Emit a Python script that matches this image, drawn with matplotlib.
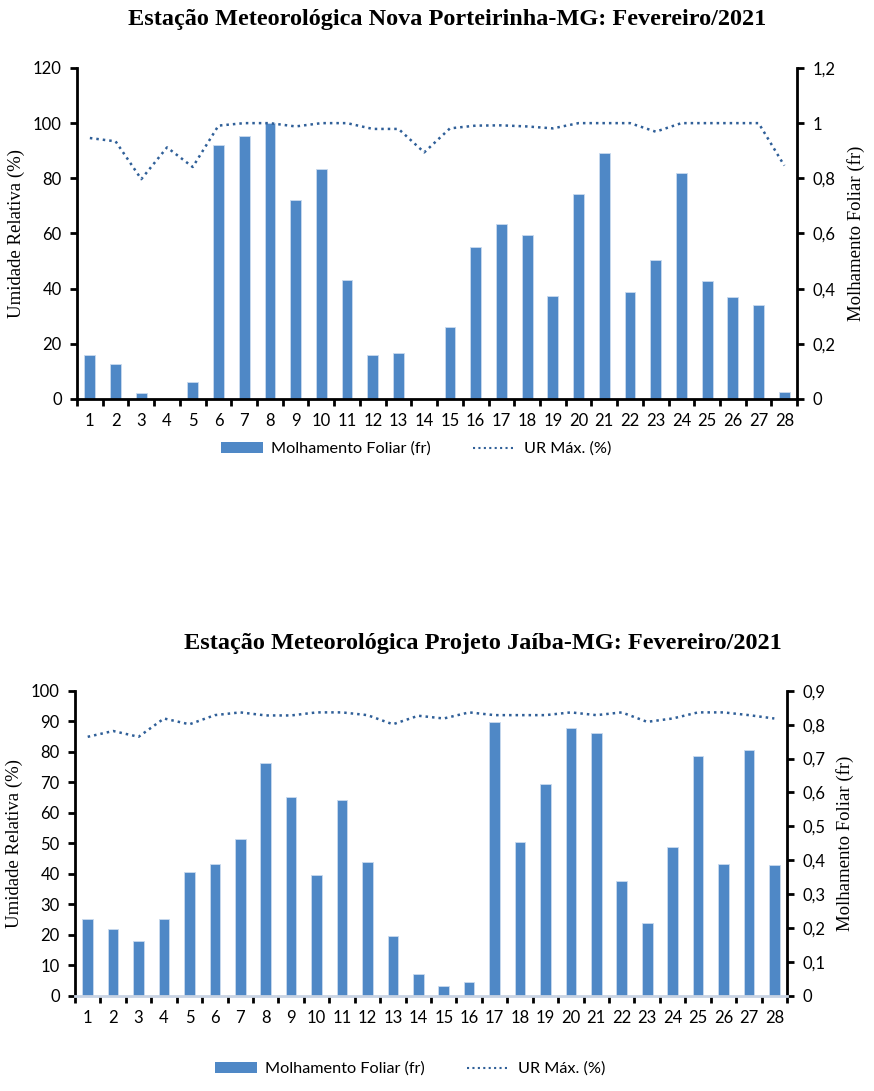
import matplotlib
matplotlib.use("Agg")
import matplotlib.pyplot as plt
from matplotlib.patches import Patch
from matplotlib.lines import Line2D
from matplotlib.ticker import FixedLocator, NullFormatter

dias = list(range(1, 29))

# Nova Porteirinha - fevereiro/2021
np_molhamento = [0.16, 0.125, 0.022, 0.0, 0.06, 0.92, 0.955, 1.0, 0.72, 0.835,
                 0.433, 0.158, 0.167, 0.0, 0.26, 0.552, 0.635, 0.595, 0.375, 0.744,
                 0.89, 0.387, 0.503, 0.82, 0.428, 0.369, 0.339, 0.027]
np_ur_max = [94.6, 93.4, 79.7, 91.2, 84.1, 99.1, 100, 100, 98.8, 100,
             100, 97.9, 97.9, 89.4, 98.1, 99.1, 99.2, 98.8, 98.1, 100,
             100, 100, 96.9, 100, 100, 100, 100, 84.6]

# Projeto Jaíba - fevereiro/2021
jb_molhamento = [0.228, 0.196, 0.163, 0.228, 0.365, 0.388, 0.464, 0.686, 0.586, 0.357,
                 0.579, 0.394, 0.178, 0.066, 0.030, 0.041, 0.809, 0.454, 0.625, 0.789,
                 0.776, 0.338, 0.215, 0.438, 0.708, 0.389, 0.725, 0.386]
jb_ur_max = [84.9, 86.8, 84.9, 90.9, 89.0, 92.0, 92.9, 91.9, 91.9, 92.9,
             92.9, 92.0, 89.0, 91.8, 90.9, 92.9, 92.0, 92.0, 92.0, 92.9,
             92.0, 92.9, 89.8, 90.9, 92.9, 92.9, 92.0, 90.9]

titulos = ["Estação Meteorológica Nova Porteirinha-MG: Fevereiro/2021",
           "Estação Meteorológica Projeto Jaíba-MG: Fevereiro/2021"]
ur_ticks = [[0, 20, 40, 60, 80, 100, 120], [0, 10, 20, 30, 40, 50, 60, 70, 80, 90, 100]]
mf_ticks = [[0, 0.2, 0.4, 0.6, 0.8, 1.0, 1.2], [0, 0.1, 0.2, 0.3, 0.4, 0.5, 0.6, 0.7, 0.8, 0.9]]

BAR = "#4F88C6"
LINE = "#2F5F98"
SANS = "Lato"
SERIF = "Liberation Serif"
TICK_FS = 12
PONTILHADO = (0, (1, 1.6))


def fmt_br(v):
    s = ("%.1f" % v).rstrip("0").rstrip(".")
    return s.replace(".", ",")


def painel(fig, rect, mf, ur, yt_ur, yt_mf, base_cor):
    ax = fig.add_axes(rect)
    ax2 = ax.twinx()
    ax.set_zorder(ax2.get_zorder() + 1)
    ax.patch.set_visible(False)

    ax2.bar(dias, mf, width=0.42, color=BAR, edgecolor="#C9DAEE", linewidth=0.6)
    ax.plot(dias, ur, color=LINE, linestyle=PONTILHADO, linewidth=1.8)

    ax.set_xlim(0.5, 28.5)
    ax.set_ylim(yt_ur[0], yt_ur[-1])
    ax2.set_ylim(yt_mf[0], yt_mf[-1])

    ax.set_yticks(yt_ur)
    ax.set_yticklabels([str(t) for t in yt_ur], family=SANS, fontsize=TICK_FS)
    ax2.set_yticks(yt_mf)
    ax2.set_yticklabels([fmt_br(t) for t in yt_mf], family=SANS, fontsize=TICK_FS)

    ax.set_xticks(dias)
    ax.set_xticklabels([str(d) for d in dias], family=SANS, fontsize=TICK_FS)
    ax.tick_params(axis="x", which="major", length=0, pad=10)
    ax.xaxis.set_minor_locator(FixedLocator([d + 0.5 for d in range(0, 29)]))
    ax.xaxis.set_minor_formatter(NullFormatter())
    ax.tick_params(axis="x", which="minor", length=5, width=2, direction="out", color="black")
    ax.tick_params(axis="y", length=5, width=2, direction="out", pad=6)
    ax2.tick_params(axis="y", length=5, width=2, direction="out", pad=6)

    for a in (ax, ax2):
        a.spines["top"].set_visible(False)
        for s in ("left", "right", "bottom"):
            a.spines[s].set_linewidth(2)
    ax.spines["right"].set_visible(False)
    ax2.spines["left"].set_visible(False)
    ax2.spines["bottom"].set_visible(False)
    ax.spines["bottom"].set_color(base_cor)

    ax.set_ylabel("Umidade Relativa (%)", family=SERIF, fontsize=13.5, labelpad=6)
    ax2.set_ylabel("Molhamento Foliar (fr)", family=SERIF, fontsize=13.5, labelpad=8)
    return ax, ax2


fig = plt.figure(figsize=(8.74, 10.91), dpi=100)

painel(fig, [0.0881, 0.6343, 0.8240, 0.3034], np_molhamento, np_ur_max,
       ur_ticks[0], mf_ticks[0], "black")
painel(fig, [0.0858, 0.0871, 0.8147, 0.2798], jb_molhamento, jb_ur_max,
       ur_ticks[1], mf_ticks[1], "#C8D3E3")

fig.text(447 / 874, 1 - 20 / 1091, titulos[0], ha="center", va="center",
         family=SERIF, fontweight="bold", fontsize=17.5)
fig.text(483 / 874, 1 - 643 / 1091, titulos[1], ha="center", va="center",
         family=SERIF, fontweight="bold", fontsize=17.5)

handles = [Patch(facecolor=BAR, edgecolor="none"),
           Line2D([], [], color=LINE, linestyle=PONTILHADO, linewidth=1.5)]
rotulos = ["Molhamento Foliar (fr)", "UR Máx. (%)"]
for xc, yc in ((416, 449), (410, 1069)):
    fig.legend(handles, rotulos, loc="center", bbox_to_anchor=(xc / 874, 1 - yc / 1091),
               ncol=2, frameon=False, prop={"family": SANS, "size": 11.7},
               handlelength=2.6, columnspacing=2.6, handletextpad=0.5)

fig.savefig("out.png", dpi=100)
